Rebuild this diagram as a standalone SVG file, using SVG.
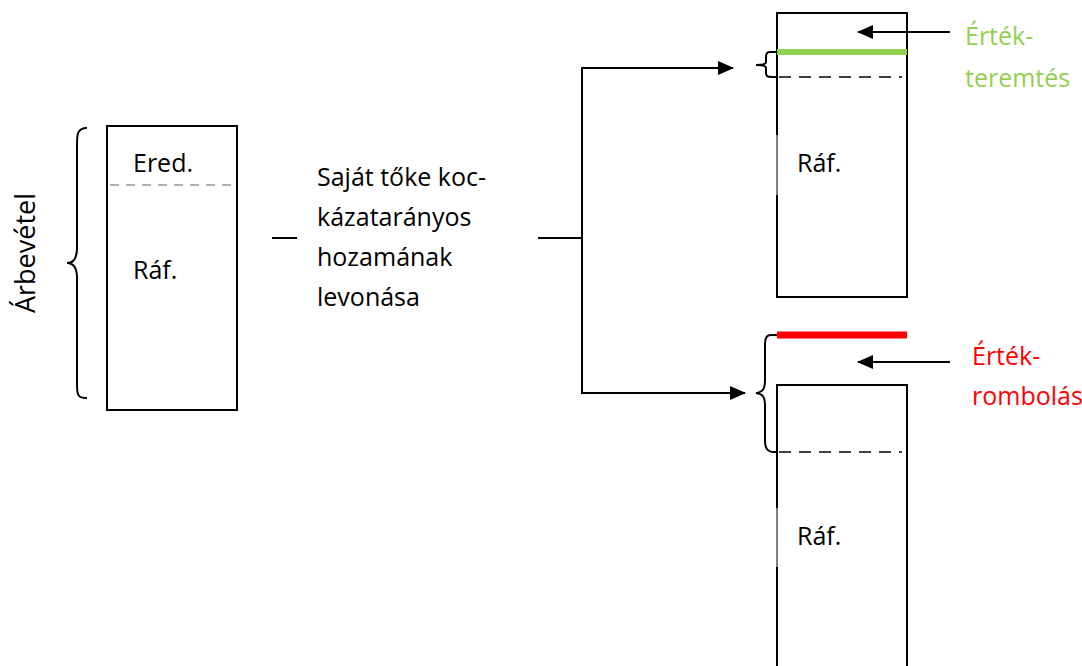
<svg xmlns="http://www.w3.org/2000/svg" width="1082" height="666" viewBox="0 0 1082 666">
<defs>
<marker id="ah2" markerWidth="16" markerHeight="14" refX="15" refY="7" orient="auto" markerUnits="userSpaceOnUse"><path d="M0,0 L16,7 L0,14 Z" fill="#000"/></marker>
</defs>
<style>
text{font-family:"Open Sans","Liberation Sans",sans-serif;font-size:25px;fill:#000}
.box{fill:#fff;stroke:#000;stroke-width:2}
.dash{stroke:#000;stroke-width:1.5;stroke-dasharray:12,8;fill:none}
.ln{stroke:#000;stroke-width:2;fill:none}
.br{stroke:#000;stroke-width:2;fill:none}
</style>
<rect width="1082" height="666" fill="#fff"/>
<g id="revenue">
<rect class="box" x="107" y="126" width="130" height="284"/>
<line x1="110" y1="185" x2="232" y2="185" stroke="#666" stroke-width="1.2" stroke-dasharray="9,7"/>
<text x="133" y="172">Ered.</text>
<text x="133" y="279">Ráf.</text>
<path class="br" d="M87,128 C76,128 77,136 77,150 L77,248 C77,258 74,263 67,263 C74,263 77,268 77,278 L77,384 C77,396 78,398 87,398"/>
<text transform="translate(35,253) rotate(-90)" text-anchor="middle" style="font-size:27px">Árbevétel</text>
</g>
<g id="deduct">
<line class="ln" x1="272" y1="238" x2="297" y2="238"/>
<text x="317" y="186">Saját tőke koc-</text>
<text x="317" y="226">kázatarányos</text>
<text x="317" y="266">hozamának</text>
<text x="317" y="306">levonása</text>
</g>
<g id="creation">
<rect class="box" x="777" y="13" width="130" height="284"/>
<rect x="776" y="135" width="3" height="60" fill="#fff"/>
<line x1="777" y1="135" x2="777" y2="195" stroke="#000" stroke-width="1"/>
<line x1="777" y1="52" x2="907" y2="52" stroke="#92d050" stroke-width="6"/>
<line class="dash" x1="779" y1="77" x2="902" y2="77"/>
<path class="br" d="M776,52 L770,52 C766,52 766,55 766,58 L766,62 C766,64 764,65 756,65 C764,65 766,66 766,68 L766,73 C766,76 767,77 772,77 L778,77"/>
<text x="797" y="172">Ráf.</text>
<text x="965" y="45" style="fill:#92d050">Érték-</text>
<text x="965" y="87" style="fill:#92d050">teremtés</text>
</g>
<g id="destruction">
<rect class="box" x="777" y="385" width="130" height="290"/>
<rect x="776" y="508" width="3" height="59" fill="#fff"/>
<line x1="777" y1="508" x2="777" y2="567" stroke="#000" stroke-width="1"/>
<line x1="777" y1="335" x2="907" y2="335" stroke="#ff0000" stroke-width="7"/>
<line class="dash" x1="779" y1="452" x2="902" y2="452"/>
<path class="br" d="M777,335 L771,335 C766,335 765,339 765,346 L765,380 C765,389 763,392 756,393 C763,394 765,397 765,406 L765,440 C765,448 767,452 774,452 L778,452"/>
<text x="797" y="545">Ráf.</text>
<text x="972" y="365" style="fill:#ff0000">Érték-</text>
<text x="972" y="405" style="fill:#ff0000">rombolás</text>
</g>
<g id="connectors">
<line class="ln" x1="538" y1="238" x2="582" y2="238"/>
<line class="ln" x1="582" y1="67" x2="582" y2="394"/>
<line class="ln" x1="581" y1="68" x2="733" y2="68" marker-end="url(#ah2)"/>
<line class="ln" x1="581" y1="393" x2="745" y2="393" marker-end="url(#ah2)"/>
<line class="ln" x1="950" y1="32" x2="858" y2="32" marker-end="url(#ah2)"/>
<line class="ln" x1="950" y1="362" x2="858" y2="362" marker-end="url(#ah2)"/>
</g>
</svg>
